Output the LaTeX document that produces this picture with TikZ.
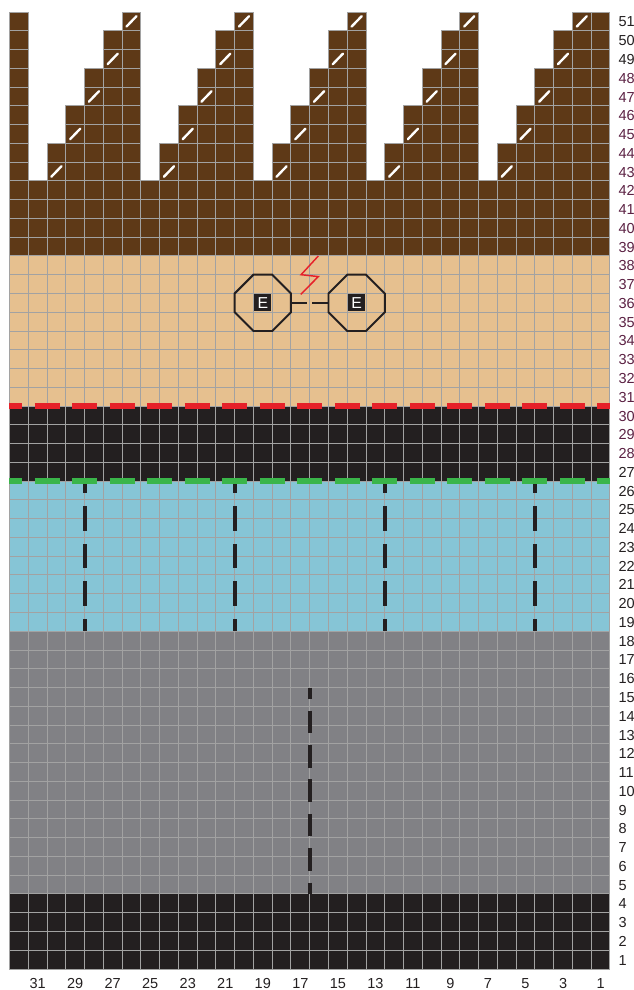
\documentclass[tikz,border=0pt]{standalone}
\usepackage{fontspec}
\setmainfont{Liberation Sans}
\usepackage{tikz}
\definecolor{barkBrown}{HTML}{5E3917}
\definecolor{tanSkin}{HTML}{E6C08F}
\definecolor{inkBlack}{HTML}{231F20}
\definecolor{iceBlue}{HTML}{86C5D6}
\definecolor{slateGray}{HTML}{818185}
\definecolor{cutRed}{HTML}{E62129}
\definecolor{seamGreen}{HTML}{3AB54A}
\definecolor{gridGray}{HTML}{A2A2A2}
\definecolor{rowPurple}{HTML}{5B2143}

\begin{document}
\begin{tikzpicture}[x=0.5cm,y=0.5cm,font=\fontsize{11}{13}\selectfont,
  gridline/.style={draw=gridGray,line width=0.7pt},
  cellbox/.style={draw=gridGray,line width=0.7pt,fill=barkBrown},
  slash/.style={white,line width=1.8pt,line cap=round},
  seam/.style={line width=4.4pt,dash pattern=on 0.665cm off 0.335cm,dash phase=0.3325cm},
  guide/.style={inkBlack,line width=3pt},
  octo/.style={minimum size=1.5cm,inner sep=0pt},
  octline/.style={draw=inkBlack,line width=1.5pt,line join=miter},
  ebox/.style={fill=inkBlack,text=white,minimum size=0.46cm,inner sep=0pt,font=\fontsize{12}{12}\selectfont},
  rowlbl/.style={text=inkBlack,inner sep=0pt,anchor=west,text height=1.6ex,text depth=0pt},
  collbl/.style={text=inkBlack,inner sep=0pt,text height=1.6ex,text depth=0pt}]
\useasboundingbox (-0.506,-1.12) rectangle (33.28,51.64);
% colour bands
\fill[inkBlack]  (0,0)  rectangle (32,4);
\fill[slateGray] (0,4)  rectangle (32,18);
\fill[iceBlue]   (0,18) rectangle (32,26);
\fill[inkBlack]  (0,26) rectangle (32,30);
\fill[tanSkin]   (0,30) rectangle (32,38);
\fill[barkBrown] (0,38) rectangle (32,42);
\foreach \i in {0,...,32} \draw[gridline] (\i,0) -- (\i,42);
\foreach \j in {0,...,42} \draw[gridline] (0,\j) -- (32,\j);
% staircase at the top
\foreach \cx in {0,31}
  \foreach \r in {43,...,51} \draw[cellbox] (\cx,\r-1) rectangle ++(1,1);
\foreach \b in {0,...,4}{
  \foreach \j/\top in {1/44,2/46,3/48,4/50,5/51}{
    \pgfmathtruncatemacro\cx{6*\b+1+\j}
    \pgfmathtruncatemacro\sr{2*\j+41}
    \foreach \r in {43,...,\top} \draw[cellbox] (\cx,\r-1) rectangle ++(1,1);
    \draw[slash] (\cx+0.23,\sr-0.78) -- (\cx+0.77,\sr-0.22);
  }
}
% dashed guides
\foreach \gx in {4,12,20,28}
  \draw[guide,dash pattern=on 0.65cm off 0.35cm,dash phase=0.325cm] (\gx,26) -- (\gx,18);
\draw[guide,dash pattern=on 0.6cm off 0.3167cm,dash phase=0.3cm] (16,15) -- (16,4);
\draw[seam,cutRed]    (0,30) -- (32,30);
\draw[seam,seamGreen] (0,26) -- (32,26);
% octagons
\node[octo] (octL) at (13.5,35.5) {};
\node[octo] (octR) at (18.5,35.5) {};
\foreach \o in {octL,octR}
  \draw[octline] (\o.center) ++(-0.5,1.5) -- ++(1,0) -- ++(1,-1) -- ++(0,-1)
    -- ++(-1,-1) -- ++(-1,0) -- ++(-1,1) -- ++(0,1) -- cycle;
\node[ebox] (eL) at (octL) {E};
\node[ebox] (eR) at (octR) {E};
\draw[inkBlack,line width=1.5pt,dash pattern=on 12.2pt off 3.6pt] (octL.east) -- (octR.west);
\draw[cutRed,line width=1.1pt] (16.46,38) -- (15.54,37) -- (16.46,36.9) -- (15.52,35.95);
% labels
\foreach \r in {1,...,27} \node[rowlbl] (r\r) at (32.45,\r-0.5) {\r};
\foreach \r in {28,...,48} \node[rowlbl,text=rowPurple] (r\r) at (32.45,\r-0.5) {\r};
\foreach \r in {49,50,51} \node[rowlbl] (r\r) at (32.45,\r-0.5) {\r};
\foreach \c in {1,3,...,31} \node[collbl] (c\c) at (32.5-\c,-0.75) {\c};
\end{tikzpicture}
\end{document}
